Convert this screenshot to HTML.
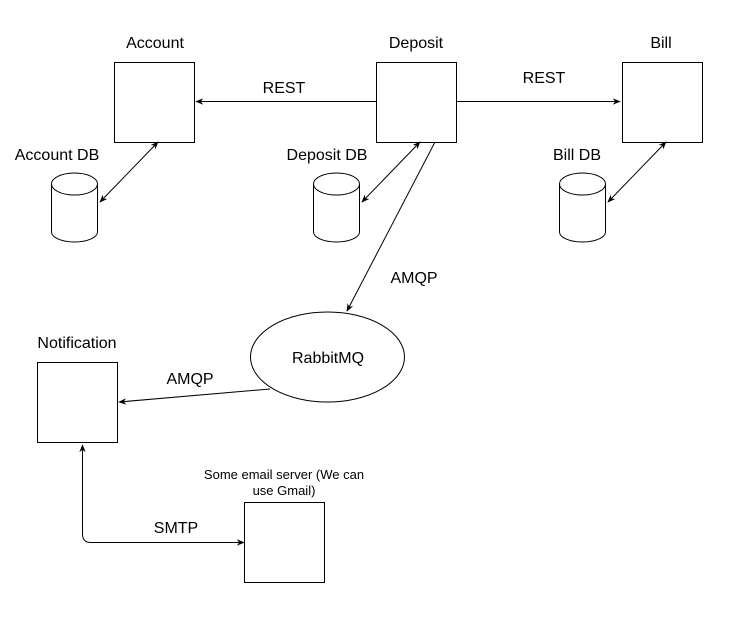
<!DOCTYPE html>
<html><head><style>body{margin:0;background:#fff}</style></head><body>
<svg width="730" height="614" xmlns="http://www.w3.org/2000/svg" font-family="Liberation Sans, Arial, sans-serif" font-size="16">
<defs><marker id="a" viewBox="0 0 10 10" refX="9" refY="5" markerWidth="8" markerHeight="8" orient="auto-start-reverse"><path d="M0,1 L10,5 L0,9 L3,5 z" fill="#000"/></marker></defs>
<rect width="730" height="614" fill="#fff"/>
<g fill="#fff" stroke="#000" stroke-width="1">
<rect x="114.5" y="62.5" width="80" height="80"/>
<rect x="376.5" y="62.5" width="80" height="80"/>
<rect x="622.5" y="62.5" width="80" height="80"/>
<rect x="37.5" y="362.5" width="80" height="80"/>
<rect x="244.5" y="502.5" width="80" height="80"/>
<ellipse cx="327.5" cy="357" rx="77" ry="45"/>
</g>
<g fill="#fff" stroke="#000">
<path d="M51.5,184 v48 a23,10 0 0 0 46,0 v-48"/><ellipse cx="74.5" cy="184" rx="23" ry="11"/>
<path d="M313.5,184 v48 a23,10 0 0 0 46,0 v-48"/><ellipse cx="336.5" cy="184" rx="23" ry="11"/>
<path d="M559.5,184 v48 a23,10 0 0 0 46,0 v-48"/><ellipse cx="582.5" cy="184" rx="23" ry="11"/>
</g>
<g stroke="#000" fill="none">
<line x1="376" y1="101.5" x2="196" y2="101.5" marker-end="url(#a)"/>
<line x1="457" y1="101.5" x2="620" y2="101.5" marker-end="url(#a)"/>
<line x1="158" y1="142" x2="100" y2="202" marker-start="url(#a)" marker-end="url(#a)"/>
<line x1="420" y1="142" x2="362" y2="202" marker-start="url(#a)" marker-end="url(#a)"/>
<line x1="666" y1="142" x2="608" y2="202" marker-start="url(#a)" marker-end="url(#a)"/>
<line x1="435" y1="142" x2="347" y2="311" marker-end="url(#a)"/>
<line x1="270" y1="389" x2="119" y2="402" marker-end="url(#a)"/>
<path d="M244,542.5 H90 Q82.5,542 82.5,534 V445" marker-start="url(#a)" marker-end="url(#a)"/>
</g>
<g text-anchor="middle" fill="#000">
<text x="155" y="48">Account</text>
<text x="416" y="48">Deposit</text>
<text x="661" y="48">Bill</text>
<text x="57" y="160">Account DB</text>
<text x="327" y="160">Deposit DB</text>
<text x="577" y="160">Bill DB</text>
<text x="284" y="93">REST</text>
<text x="544" y="83">REST</text>
<text x="414" y="283">AMQP</text>
<text x="190" y="384">AMQP</text>
<text x="328" y="363">RabbitMQ</text>
<text x="77" y="348">Notification</text>
<text x="176" y="533">SMTP</text>
<text x="284" y="479" font-size="13">Some email server (We can</text>
<text x="284" y="495" font-size="13">use Gmail)</text>
</g>
</svg>
</body></html>
